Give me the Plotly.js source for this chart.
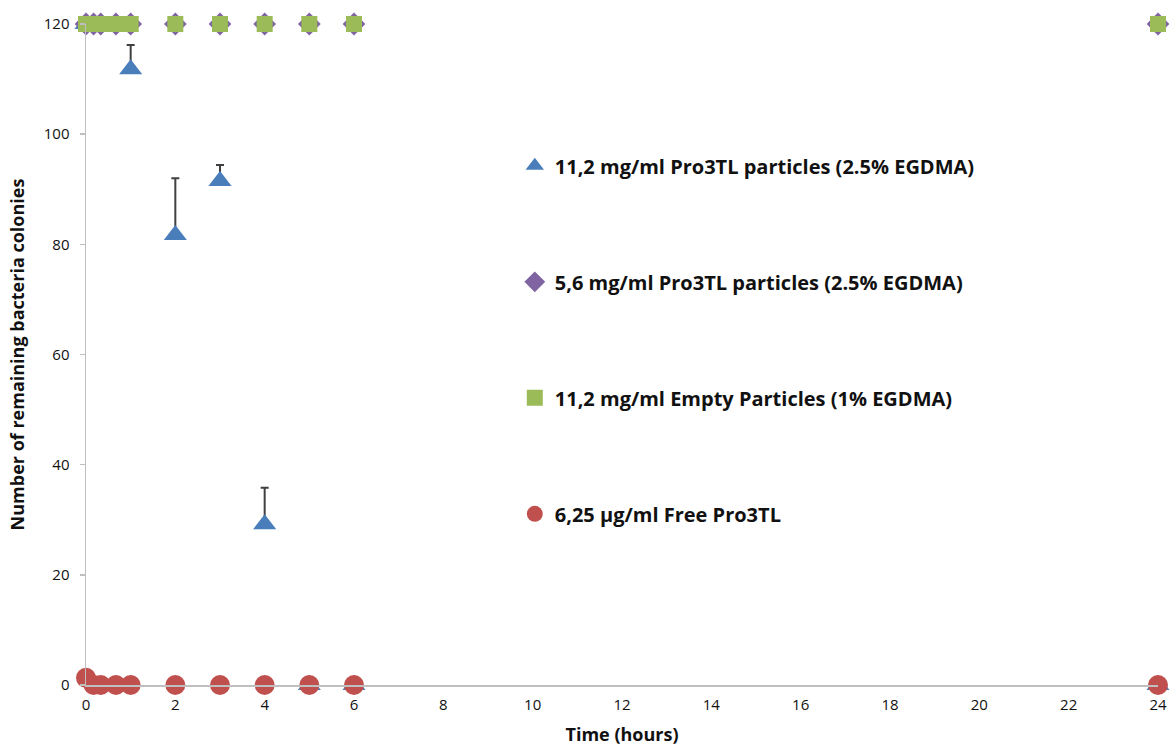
<!DOCTYPE html>
<html>
<head>
<meta charset="utf-8">
<script src="https://cdn.plot.ly/plotly-3.0.1.min.js"></script>
<style>html,body{margin:0;padding:0;background:#fff;}#chart{width:1170px;height:747px;}</style>
</head>
<body>
<div id="chart"></div>
<script>
// Time points (hours)
var time = [0, 0.17, 0.33, 0.67, 1, 2, 3, 4, 5, 6, 24];
// Series values (number of remaining colonies)
var pro3tl11 = [120, 120, 120, 120, 111.8, 81.7, 91.5, 29.2, 0, 0, 0];
var pro3tl11ErrPlus = [0, 0, 0, 0, 4.4, 10.3, 2.9, 6.6, 0, 0, 0];
var pro3tl56 = [120, 120, 120, 120, 120, 120, 120, 120, 120, 120, 120];
var empty11 = [120, 120, 120, 120, 120, 120, 120, 120, 120, 120, 120];
var freePro3tl = [1.3, 0, 0, 0, 0, 0, 0, 0, 0, 0, 0];
var zeros = [0, 0, 0, 0, 0, 0, 0, 0, 0, 0, 0];

var names = [
  "11,2 mg/ml Pro3TL particles (2.5% EGDMA)",
  "5,6 mg/ml Pro3TL particles (2.5% EGDMA)",
  "11,2 mg/ml Empty Particles (1% EGDMA)",
  "6,25 \u00b5g/ml Free Pro3TL"
];
var xTicks = [0, 2, 4, 6, 8, 10, 12, 14, 16, 18, 20, 22, 24];
var yTicks = [0, 20, 40, 60, 80, 100, 120];

var font = "Open Sans, Noto Sans, sans-serif";

var traces = [
  {
    x: time, y: pro3tl11, name: names[0], type: "scatter", mode: "markers",
    legendgroup: "a", cliponaxis: false,
    marker: {symbol: "triangle-up", size: 20, color: "#4a7ebb"},
    error_y: {type: "data", symmetric: false, array: pro3tl11ErrPlus, arrayminus: zeros,
              color: "#404040", thickness: 2, width: 4}
  },
  {
    x: time, y: pro3tl56, name: names[1], type: "scatter", mode: "markers",
    legendgroup: "b", cliponaxis: false,
    marker: {symbol: "diamond", size: 17.5, color: "#8064a2"}
  },
  {
    x: time, y: empty11, name: names[2], type: "scatter", mode: "markers",
    legendgroup: "c", cliponaxis: false,
    marker: {symbol: "square", size: 16, color: "#9bbb59"}
  },
  {
    x: time, y: freePro3tl, name: names[3], type: "scatter", mode: "markers",
    legendgroup: "d", cliponaxis: false,
    marker: {symbol: "circle", size: 20, color: "#c0504d"}
  }
];

var layout = {
  width: 1170, height: 747,
  margin: {l: 86, r: 12, t: 24, b: 62},
  paper_bgcolor: "#fff", plot_bgcolor: "#fff",
  font: {family: font, size: 15, color: "#111"},
  showlegend: true,
  legend: {
    x: 0.40, y: 0.815, xanchor: "left", yanchor: "top",
    traceorder: "grouped", tracegroupgap: 87,
    bgcolor: "rgba(0,0,0,0)",
    font: {family: font, size: 20, color: "#111", weight: "bold"}
  },
  xaxis: {
    range: [0, 24], tickvals: xTicks, ticktext: xTicks.map(String),
    showgrid: false, zeroline: false, showline: true, linecolor: "#bfbfbf", linewidth: 1.5,
    ticks: "", ticklabelstandoff: 5, tickfont: {size: 15, color: "#111"},
    title: {text: "<b>Time (hours)</b>", font: {size: 18, color: "#111"}, standoff: 16}
  },
  yaxis: {
    range: [0, 120], tickvals: yTicks, ticktext: yTicks.map(String),
    showgrid: false, zeroline: false, showline: true, linecolor: "#bfbfbf", linewidth: 1.5,
    ticks: "outside", ticklen: 5, tickcolor: "#bfbfbf", tickwidth: 1.5,
    ticklabelstandoff: 7, tickfont: {size: 15, color: "#111"},
    title: {text: "<b>Number of remaining bacteria colonies</b>", font: {size: 18, color: "#111"}, standoff: 14}
  }
};

Plotly.newPlot("chart", traces, layout, {displayModeBar: false, staticPlot: true});
</script>
</body>
</html>
